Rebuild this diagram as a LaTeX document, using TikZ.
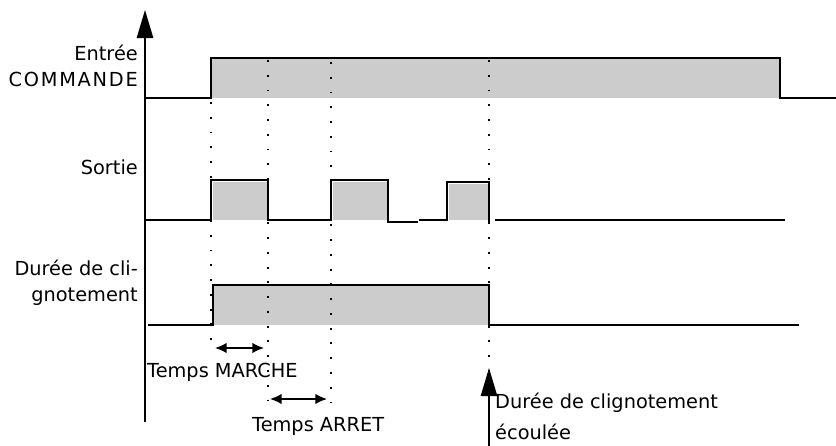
\documentclass[tikz,border=0pt]{standalone}
\usepackage{fontspec}
\setmainfont{DejaVu Sans}
\usetikzlibrary{arrows.meta, positioning}

\begin{document}
\begin{tikzpicture}[
x=0.03cm, y=-0.03cm,
font=\fontsize{16.5}{22}\selectfont,
signal/.style={
draw=black,
line width=1.3pt,
line join=miter
},
level/.style={
fill=black!20,
draw=none
},
guide/.style={
line width=1pt,
dash pattern=on 1.6pt off 11pt
},
span/.style={
{Latex[length=10pt,width=9pt]}-{Latex[length=10pt,width=9pt]},
line width=1.3pt
},
bigarrow/.style={
-{Triangle[length=24pt,width=14pt]},
line width=1.3pt
},
label/.style={
inner sep=0pt,
align=right,
anchor=east
},
note/.style={
inner sep=0pt,
align=left,
anchor=north west
}
]

\useasboundingbox (0,0) rectangle (836,446);

\coordinate (axisbot) at (145,422);
\coordinate (axistop) at (145,10);

\fill [level] (211,58) rectangle (780,98);
\fill [level] (213,182) rectangle (267,220);
\fill [level] (333,182) rectangle (387,220);
\fill [level] (449,184) rectangle (488,220);
\fill [level] (214,285) rectangle (489,325);

\draw [signal] (145,98) -- (211,98) -- (211,58) -- (780,58) -- (780,98) -- (836,98);
\draw [signal] (145,220) -- (211,220) -- (211,180) -- (268,180) -- (268,220) -- (331,220)
-- (331,180) -- (388,180) -- (388,222) -- (418,222);
\draw [signal] (419,220) -- (447,220) -- (447,182) -- (489,182) -- (489,222);
\draw [signal] (495,220) -- (785,220);
\draw [signal] (148,325) -- (213,325) -- (213,285) -- (489,285) -- (489,325) -- (799,325);

\draw [guide] (211,102) -- (211,350);
\draw [guide] (268,60) -- (268,404);
\draw [guide] (331,62) -- (331,404);
\draw [guide] (489,60) -- (489,372);

\draw [bigarrow] (axisbot) -- (axistop);

\node (entree) [label] at (138,66)
{Entrée\\{\addfontfeature{LetterSpace=9}COMMANDE}};
\node (sortie) [label] at (138,167) {Sortie};
\node (duree) [label] at (138,283) {Durée de cli-\\gnotement};

\coordinate (ma) at (215,348);
\coordinate (mb) at (264,348);
\coordinate (aa) at (270,399);
\coordinate (ab) at (327,399);
\draw [span] (ma) -- (mb);
\draw [span] (aa) -- (ab);

\node (marche) [inner sep=0pt, anchor=west] at (147,372) {Temps MARCHE};
\node (arret) [inner sep=0pt, anchor=west] at (252,426) {Temps ARRET};

\coordinate (fin) at (489,446);
\coordinate (fintip) at (489,368);
\draw [bigarrow] (fin) -- (fintip);

\node (ecoulee) [note, font=\fontsize{16.5}{26}\selectfont] at (495,393)
{Durée de clignotement\\écoulée};

\end{tikzpicture}
\end{document}
